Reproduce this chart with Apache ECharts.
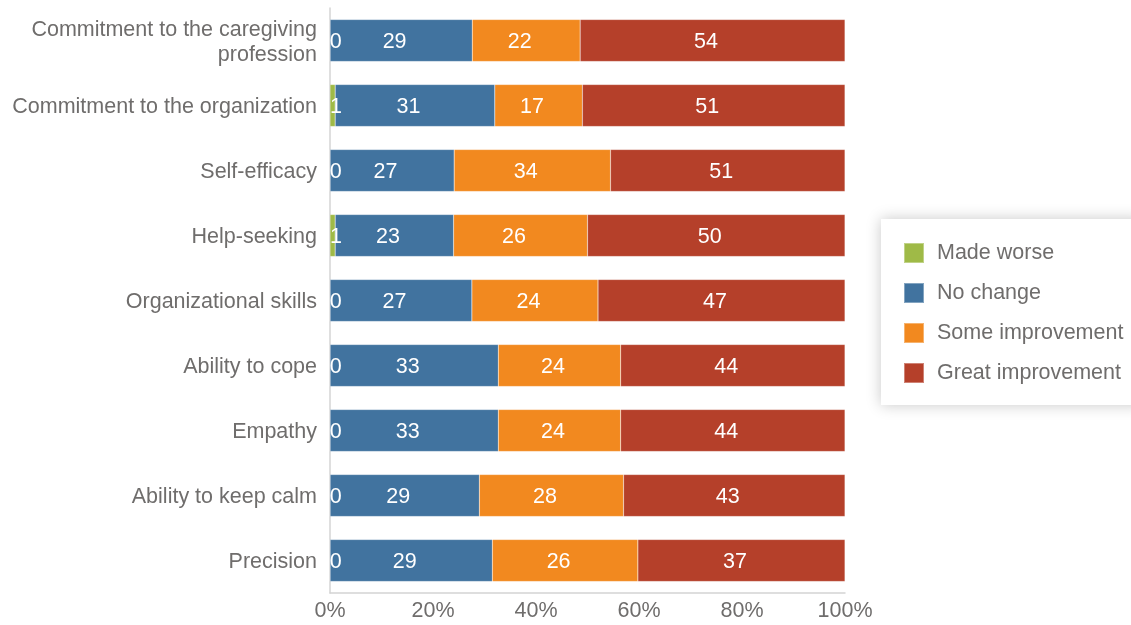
<!DOCTYPE html>
<html>
<head>
<meta charset="utf-8">
<script src="https://cdn.jsdelivr.net/npm/echarts@6/dist/echarts.min.js"></script>
<style>
  html, body { margin: 0; padding: 0; background: #fff; }
  #chart { width: 1131px; height: 625px; }
</style>
</head>
<body>
<div id="chart"></div>
<script>
// Survey items, top to bottom
const categories = [
  'Commitment to the caregiving\nprofession',
  'Commitment to the organization',
  'Self-efficacy',
  'Help-seeking',
  'Organizational skills',
  'Ability to cope',
  'Empathy',
  'Ability to keep calm',
  'Precision'
];

// Response counts per item
const madeWorse   = [0, 1, 0, 1, 0, 0, 0, 0, 0];
const noChange    = [29, 31, 27, 23, 27, 33, 33, 29, 29];
const someImprove = [22, 17, 34, 26, 24, 24, 24, 28, 26];
const greatImprove= [54, 51, 51, 50, 47, 44, 44, 43, 37];

const seriesNames = ['Made worse', 'No change', 'Some improvement', 'Great improvement'];
const seriesColors = ['#9fba47', '#41739f', '#f2891f', '#b5402a'];
const xTicks = { min: 0, max: 100, interval: 20 };

// Each row is shown as shares of its own total (100% stacked)
const rows = [madeWorse, noChange, someImprove, greatImprove];
const totals = categories.map((_, i) => rows.reduce((s, r) => s + r[i], 0));

const font = '"Liberation Sans", Arial, Helvetica, sans-serif';
const grey = '#6f6d6c';
const fs = 21.5;

const series = rows.map((arr, k) => ({
  name: seriesNames[k],
  type: 'bar',
  stack: 'all',
  barWidth: 42,
  itemStyle: { color: seriesColors[k], borderColor: 'rgba(255,255,255,0.35)', borderWidth: 0.5 },
  label: {
    show: true,
    position: k === 0 ? 'insideLeft' : 'inside',
    distance: 0,
    offset: k === 0 ? [0, 2] : [-6.5, 2],
    color: '#ffffff',
    fontFamily: font,
    fontSize: fs,
    formatter: p => String(arr[p.dataIndex])
  },
  emphasis: { disabled: true },
  z: k === 0 ? 5 : 2,
  data: arr.map((v, i) => v / totals[i] * 100)
}));

const chart = echarts.init(document.getElementById('chart'), null, { renderer: 'canvas' });
chart.setOption({
  animation: false,
  backgroundColor: '#ffffff',
  grid: { left: 330, right: 286, top: 8, bottom: 32, containLabel: false },
  legend: {
    orient: 'vertical',
    left: 881,
    top: 219,
    padding: [23, 20, 21, 22],
    backgroundColor: '#ffffff',
    shadowColor: 'rgba(0,0,0,0.22)',
    shadowBlur: 14,
    shadowOffsetX: 0,
    shadowOffsetY: 0,
    itemWidth: 20,
    itemHeight: 20,
    itemGap: 18,
    icon: 'rect',
    textStyle: { color: grey, fontSize: fs, fontFamily: font, padding: [2, 0, 0, 8] },
    data: seriesNames
  },
  xAxis: {
    type: 'value',
    min: xTicks.min,
    max: xTicks.max,
    interval: xTicks.interval,
    axisLine: { show: true, lineStyle: { color: '#d4d4d4', width: 1.5 } },
    axisTick: { show: false },
    splitLine: { show: false },
    axisLabel: {
      formatter: '{value}%',
      color: grey,
      fontSize: fs,
      fontFamily: font,
      margin: 7
    }
  },
  yAxis: {
    type: 'category',
    inverse: true,
    data: categories,
    axisLine: { show: true, lineStyle: { color: '#d4d4d4', width: 1.5 } },
    axisTick: { show: false },
    axisLabel: {
      margin: 13,
      align: 'right',
      formatter: v => v.split('\n').map(s => '{t|' + s + '}').join('\n'),
      rich: {
        t: {
          color: grey,
          fontSize: fs,
          fontFamily: font,
          lineHeight: 25,
          padding: [4, 0, 0, 0]
        }
      }
    }
  },
  series
});
</script>
</body>
</html>
